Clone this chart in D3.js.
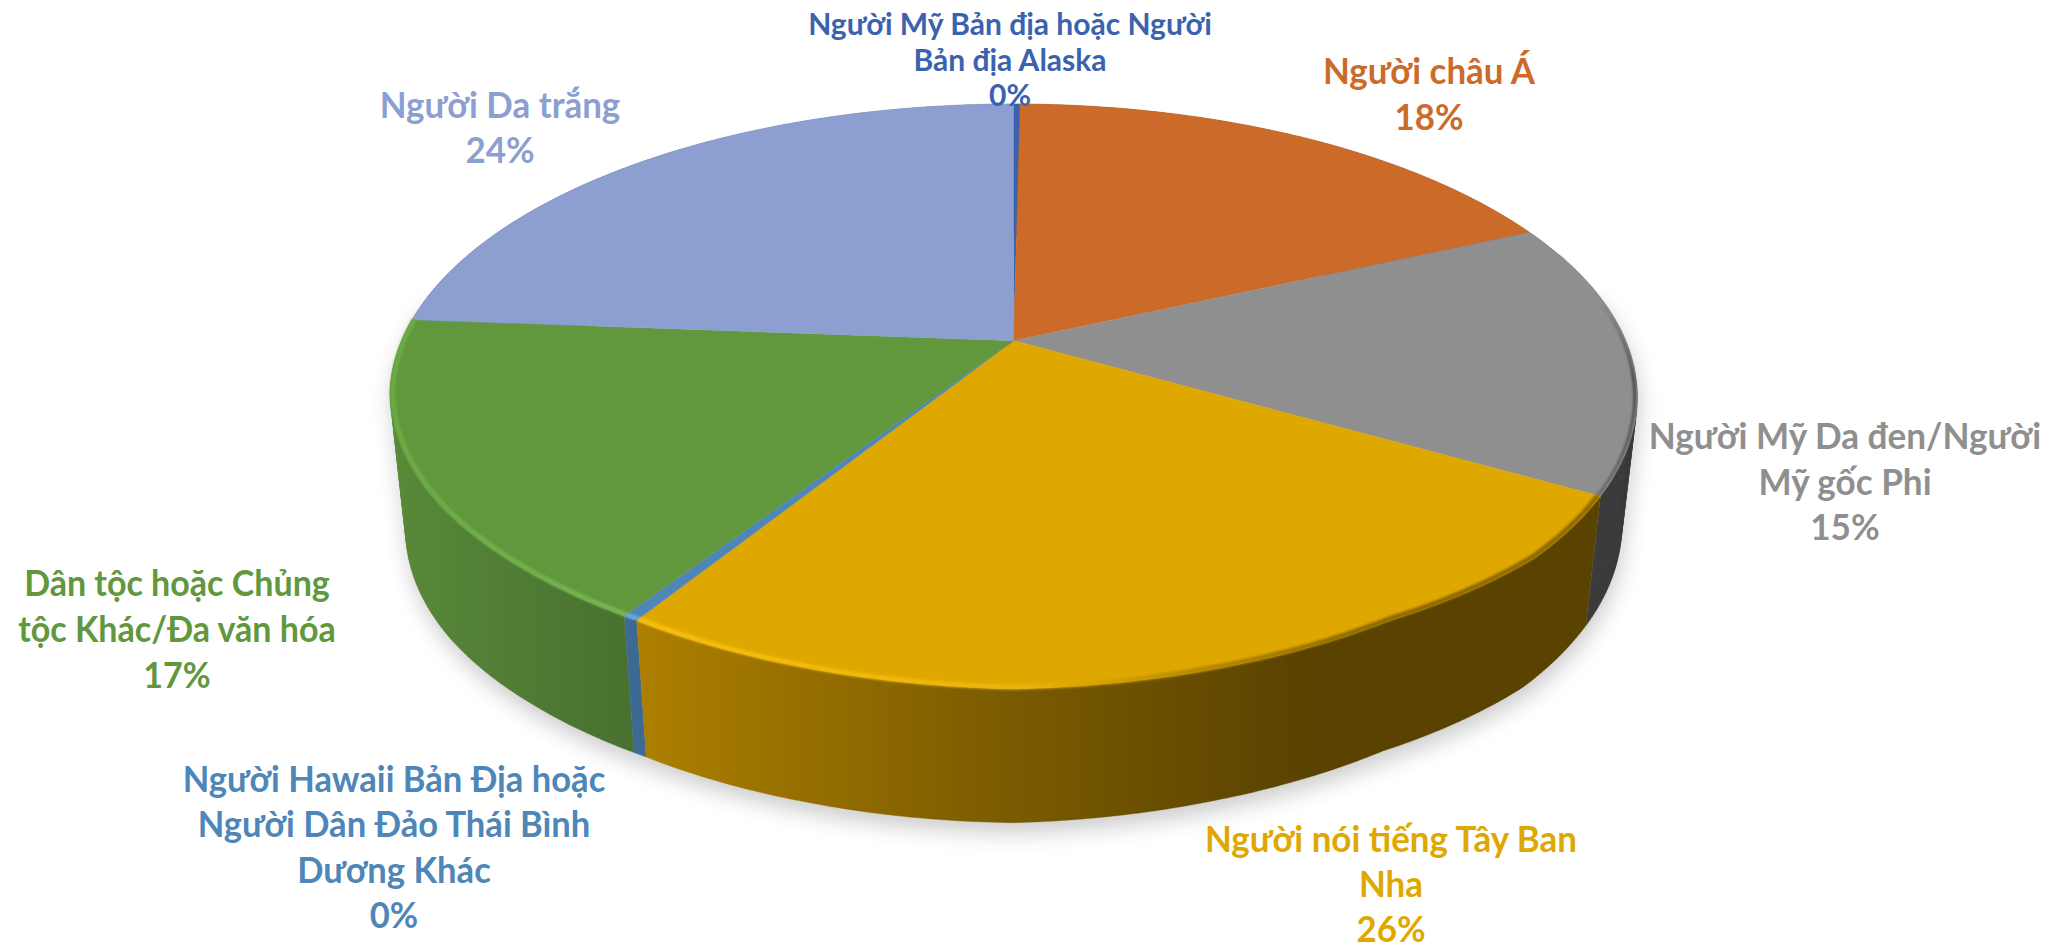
<!DOCTYPE html>
<html><head><meta charset="utf-8">
<script src="https://cdn.jsdelivr.net/npm/d3@7/dist/d3.min.js"></script>
<style>html,body{margin:0;padding:0;background:#fff}svg{display:block}</style></head>
<body><svg id="c" width="2048" height="944"></svg>
<script>
// ---- data ----
const categories = ["Người Mỹ Bản địa hoặc Người Bản địa Alaska","Người châu Á","Người Mỹ Da đen/Người Mỹ gốc Phi","Người nói tiếng Tây Ban Nha","Người Hawaii Bản Địa hoặc Người Dân Đảo Thái Bình Dương Khác","Dân tộc hoặc Chủng tộc Khác/Đa văn hóa","Người Da trắng"];
const values = [0.002,0.18,0.151,0.2555,0.0035,0.17,0.238];
const labelLines = [
 ["Người Mỹ Bản địa hoặc Người","Bản địa Alaska"],
 ["Người châu Á"],
 ["Người Mỹ Da đen/Người","Mỹ gốc Phi"],
 ["Người nói tiếng Tây Ban","Nha"],
 ["Người Hawaii Bản Địa hoặc","Người Dân Đảo Thái Bình","Dương Khác"],
 ["Dân tộc hoặc Chủng","tộc Khác/Đa văn hóa"],
 ["Người Da trắng"]
];
const topColors  = ["#3A62AE","#CC6B29","#8F8F8F","#DFA800","#4E86B8","#61973D","#8C9FD0"];
// label placement: centre x, first baseline, line step, font size, horizontal squeeze
const labelX = [1010,1429,1845,1391,394,177,500];
const labelY = [35,84,449,852,792,596,118];
const labelStep = [35.5,46,45.5,45,45.3,46,45.3];
const labelSize = [30,36,36,36,36,36,36];
const labelSqueeze = [1,0.97,0.975,0.97,0.96,0.945,0.97];

// ---- perspective model of the disc ----
const cx=1013.6, cy=340.7, A=612, B=282.2, k=0.1922, sideDepth=134, sideSkew=5, bottomScale=0.975;
// the front of the reference's rim sits slightly inside a true ellipse
const insetRight=d3.scaleLinear().domain([0,17,32,48]).range([0.003,0.013,0.02,0]).clamp(true);
const insetLeft=d3.scaleLinear().domain([0,17,32,45,60,80]).range([0.003,0.013,0.02,0.015,0.007,0]).clamp(true);
function P(a,h=0,r=1){
  const deg=Math.abs(a-Math.PI)*180/Math.PI;
  const rr=r*(1-(a<Math.PI?insetRight:insetLeft)(deg));
  const u=rr*Math.sin(a), v=-rr*Math.cos(a), w=1-k*v;
  const dx=A*u/w, y=cy+B*v/w;
  if(!h) return [cx+dx,y];
  return [cx+dx*bottomScale, y+sideDepth-sideSkew*Math.sin(a)];
}
function arcPts(a0,a1,h=0,r=1){
  const n=Math.max(2,Math.ceil(Math.abs(a1-a0)/0.01));
  return d3.range(n+1).map(i=>P(a0+(a1-a0)*i/n,h,r));
}
const line=d3.line();
// the wall is the swept strip of small quads, all wound the same way,
// so the tangent silhouette is filled with no holes
function wallPath(a0,a1){
  const t=arcPts(a0,a1,0), b=arcPts(a0,a1,1);
  return d3.range(t.length-1).map(i=>{
    const q=[t[i],t[i+1],b[i+1],b[i]];
    if(d3.polygonArea(q)<0) q.reverse();
    return line(q)+"Z";
  }).join("");
}
const svg=d3.select("#c");
const defs=svg.append("defs");
const arcs=d3.pie().sort(null).startAngle(0).endAngle(2*Math.PI)(values);

function blur(id,s){defs.append("filter").attr("id",id).attr("x","-20%").attr("y","-20%").attr("width","140%").attr("height","140%")
  .append("feGaussianBlur").attr("stdDeviation",s);}
blur("sh",11);blur("rim",1.2);
function grad(id,x1,x2,stops,y1=0,y2=0){
  const g=defs.append("linearGradient").attr("id",id).attr("gradientUnits","userSpaceOnUse")
    .attr("x1",x1).attr("x2",x2).attr("y1",y1).attr("y2",y2);
  stops.forEach(s=>g.append("stop").attr("offset",s[0]).attr("stop-color",s[1]));
}
grad("w3",630,1400,[[0,"#AE8000"],[0.45,"#7E5E00"],[0.88,"#5A4200"],[1,"#5A4200"]]);
grad("w5",390,640,[[0,"#588A39"],[1,"#486F2F"]]);
grad("r3",640,1600,[[0,"#F8BE0A"],[0.4,"#EDB408"],[0.58,"#B88900"],[0.75,"#8E6A00"],[1,"#8E6A00"]]);
grad("r2",0,0,[[0,"#8F8F8F"],[0.4,"#484848"],[1,"#6A6A6A"]],300,495);
grad("r5",390,640,[[0,"#6BAA44"],[1,"#75B84F"]]);
const wallFill=["#2B4A82","#8A4A1C","#3C3C3C","url(#w3)","#3D6A92","url(#w5)","#5F6C8E"];
const rimStroke=[null,null,"url(#r2)","url(#r3)","#6AA8DC","url(#r5)",null];

// shadow: the body outline, soft and slightly lower
svg.append("path").attr("d",wallPath(Math.PI/2-0.2,Math.PI*1.5+0.2))
  .attr("fill","#000").attr("opacity",0.2).attr("filter","url(#sh)").attr("transform","translate(2,10)");

// walls, rear to front
const wallOrder=arcs.slice().sort((p,q)=>{
  const d=a=>-Math.cos((a.startAngle+a.endAngle)/2);return d(p)-d(q);});
svg.append("g").selectAll("path").data(wallOrder).join("path")
  .attr("d",d=>wallPath(d.startAngle,d.endAngle))
  .attr("fill",d=>wallFill[d.index]).attr("stroke",d=>wallFill[d.index]).attr("stroke-width",0.3);

// top surface
svg.append("g").selectAll("path").data(arcs).join("path")
  .attr("d",d=>line([[cx,cy]].concat(arcPts(d.startAngle,d.endAngle,0)))+"Z")
  .attr("fill",d=>topColors[d.index]).attr("stroke",d=>topColors[d.index]).attr("stroke-width",0.4);

// bevel along the front rim
svg.append("g").selectAll("path").data(arcs.filter(d=>rimStroke[d.index]))
  .join("path")
  .attr("d",d=>{
    const a0=d.index===2?d.startAngle+0.1:d.startAngle;
    return line(arcPts(a0,d.endAngle,0,0.996));})
  .attr("fill","none").attr("stroke",d=>rimStroke[d.index]).attr("stroke-width",d=>d.index===2?3:5)
  .attr("filter","url(#rim)");

// labels
const pct=d3.format(".0%");
const lab=svg.append("g").attr("font-family","Lato, 'Open Sans', sans-serif").attr("font-weight",700).attr("text-anchor","middle");
categories.forEach((c,i)=>{
  const rows=labelLines[i].concat(pct(values[i]));
  lab.append("g").attr("fill",topColors[i]).attr("font-size",labelSize[i])
   .selectAll("text").data(rows).join("text")
   .attr("x",labelX[i]).attr("y",(r,j)=>labelY[i]+j*labelStep[i]).text(r=>r)
   .attr("lengthAdjust","spacingAndGlyphs")
   .attr("textLength",function(){return this.getComputedTextLength()*labelSqueeze[i];});
});
</script></body></html>
